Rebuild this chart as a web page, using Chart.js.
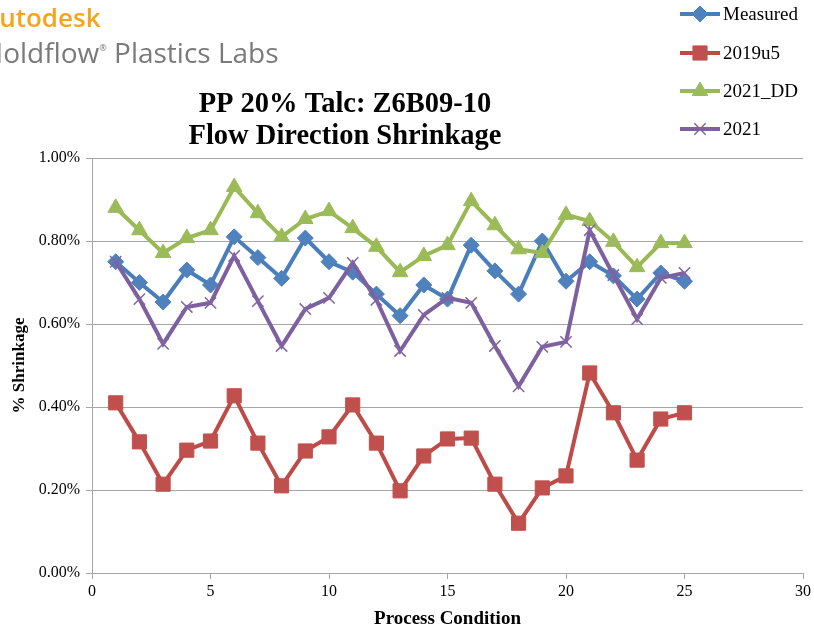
<!DOCTYPE html>
<html>
<head>
<meta charset="utf-8">
<script src="https://cdn.jsdelivr.net/npm/chart.js@4.4.1/dist/chart.umd.min.js"></script>
<style>
  html, body { margin: 0; padding: 0; background: #fff; overflow: hidden; }
  #wrap { position: relative; width: 814px; height: 629px; }
  #chart { position: absolute; left: 0; top: 0; }
  .logo1 { position: absolute; left: -18px; top: -1px; font: 600 26px "Open Sans", sans-serif; color: #f5a51c; white-space: nowrap; }
  .logo2 { position: absolute; left: -22px; top: 33px; font: 400 28px "Open Sans", sans-serif; color: #7a7a7a; white-space: nowrap; }
  .logo2 sup { font-size: 9px; vertical-align: 12px; }
</style>
</head>
<body>
<div id="wrap">
  <canvas id="chart" width="814" height="629"></canvas>
  <div class="logo1">Autodesk</div>
  <div class="logo2">Moldflow<sup>®</sup> Plastics Labs</div>
</div>
<script>
/* =========================
   DATA
   ========================= */
const conditions = [1, 2, 3, 4, 5, 6, 7, 8, 9, 10, 11, 12, 13, 14, 15, 16, 17, 18, 19, 20, 21, 22, 23, 24, 25];

const measured = [0.75, 0.70, 0.653, 0.73, 0.694, 0.81, 0.76, 0.71, 0.807, 0.75, 0.725, 0.672, 0.62,
                  0.694, 0.66, 0.79, 0.728, 0.672, 0.80, 0.703, 0.75, 0.716, 0.66, 0.723, 0.703];
const v2019u5 = [0.41, 0.316, 0.214, 0.296, 0.318, 0.427, 0.313, 0.21, 0.294, 0.328, 0.405, 0.313, 0.198,
                 0.282, 0.323, 0.325, 0.214, 0.12, 0.205, 0.234, 0.482, 0.386, 0.272, 0.371, 0.386];
const v2021DD = [0.88, 0.826, 0.771, 0.807, 0.826, 0.93, 0.867, 0.81, 0.853, 0.872, 0.831, 0.786, 0.725,
                 0.764, 0.79, 0.896, 0.838, 0.78, 0.771, 0.863, 0.848, 0.798, 0.737, 0.795, 0.795];
const v2021 = [0.75, 0.66, 0.552, 0.641, 0.651, 0.764, 0.655, 0.547, 0.636, 0.663, 0.747, 0.658, 0.535,
               0.622, 0.663, 0.651, 0.547, 0.45, 0.545, 0.557, 0.826, 0.718, 0.612, 0.711, 0.723];

const titleLines = ["PP 20% Talc: Z6B09-10", "Flow Direction Shrinkage"];
const xTitle = "Process Condition";
const yTitle = "% Shrinkage";

const SERIF = '"Liberation Serif", "Times New Roman", serif';
const GRID = "#a6a6a6";

const pts = vals => conditions.map((c, i) => ({ x: c, y: vals[i] }));

function series(label, vals, line, fill, style, radius, pbw, order) {
  return {
    label,
    data: pts(vals),
    borderColor: line,
    backgroundColor: fill,
    borderWidth: 4,
    pointStyle: style,
    pointRadius: radius,
    pointBorderColor: fill,
    pointBackgroundColor: fill,
    pointBorderWidth: pbw,
    tension: 0,
    order
  };
}

const datasets = [
  series("Measured", measured, "#4a7ebb", "#4f81bd", "rectRot", 8, 1, 3),
  series("2019u5", v2019u5, "#be4b48", "#c0504d", "rect", 10, 1, 2),
  series("2021_DD", v2021DD, "#98b954", "#9bbb59", "triangle", 9, 1, 1),
  series("2021", v2021, "#7d60a0", "#8064a2", "crossRot", 8, 1.5, 0)
];

/* =========================
   TITLE + LEGEND PLUGIN
   ========================= */
const decor = {
  id: "decor",
  afterDraw(chart) {
    const ctx = chart.ctx;
    ctx.save();
    ctx.fillStyle = "#000";
    ctx.textAlign = "center";
    ctx.textBaseline = "middle";
    ctx.font = "bold 28.5px " + SERIF;
    ctx.fillText(titleLines[0], 345, 105);
    ctx.fillText(titleLines[1], 345, 137);

    const rows = [14, 53, 91, 129];
    datasets.forEach((ds, i) => {
      const y = rows[i];
      ctx.strokeStyle = ds.borderColor;
      ctx.lineWidth = 4;
      ctx.beginPath();
      ctx.moveTo(680, y);
      ctx.lineTo(720, y);
      ctx.stroke();
      ctx.fillStyle = ds.pointBackgroundColor;
      ctx.strokeStyle = ds.pointBorderColor;
      ctx.lineWidth = ds.pointBorderWidth;
      Chart.helpers.drawPoint(ctx, { pointStyle: ds.pointStyle, radius: ds.pointRadius, rotation: 0, borderWidth: ds.pointBorderWidth }, 700, y);
      ctx.fillStyle = "#000";
      ctx.textAlign = "left";
      ctx.font = "19px " + SERIF;
      ctx.fillText(ds.label, 723, y + 1);
    });
    ctx.restore();
  }
};

/* =========================
   CHART
   ========================= */
new Chart(document.getElementById("chart"), {
  type: "line",
  data: { datasets },
  plugins: [decor],
  options: {
    responsive: false,
    animation: false,
    events: [],
    layout: { padding: { top: 158, right: 5, left: 0, bottom: 0 } },
    plugins: { legend: { display: false }, tooltip: { enabled: false } },
    scales: {
      x: {
        type: "linear",
        min: 0,
        max: 30,
        afterFit: s => { s.height = 56; s.paddingRight = 0; },
        ticks: { stepSize: 5, color: "#000", font: { family: SERIF, size: 16 }, padding: 3 },
        grid: { drawOnChartArea: false, color: GRID, tickLength: 6 },
        border: { color: GRID },
        title: { display: true, text: xTitle, color: "#000", font: { family: SERIF, size: 19, weight: "bold", lineHeight: 1 }, padding: { top: 0, bottom: 0 } }
      },
      y: {
        min: 0,
        max: 1,
        afterFit: s => { s.width = 92; },
        ticks: { stepSize: 0.2, color: "#000", font: { family: SERIF, size: 16 }, padding: 6,
                 callback: v => v.toFixed(2) + "%" },
        grid: { color: GRID, tickLength: 6 },
        border: { color: GRID },
        title: { display: true, text: yTitle, color: "#000", font: { family: SERIF, size: 17, weight: "bold", lineHeight: 1 }, padding: { top: 11, bottom: 0 } }
      }
    }
  }
});
</script>
</body>
</html>
